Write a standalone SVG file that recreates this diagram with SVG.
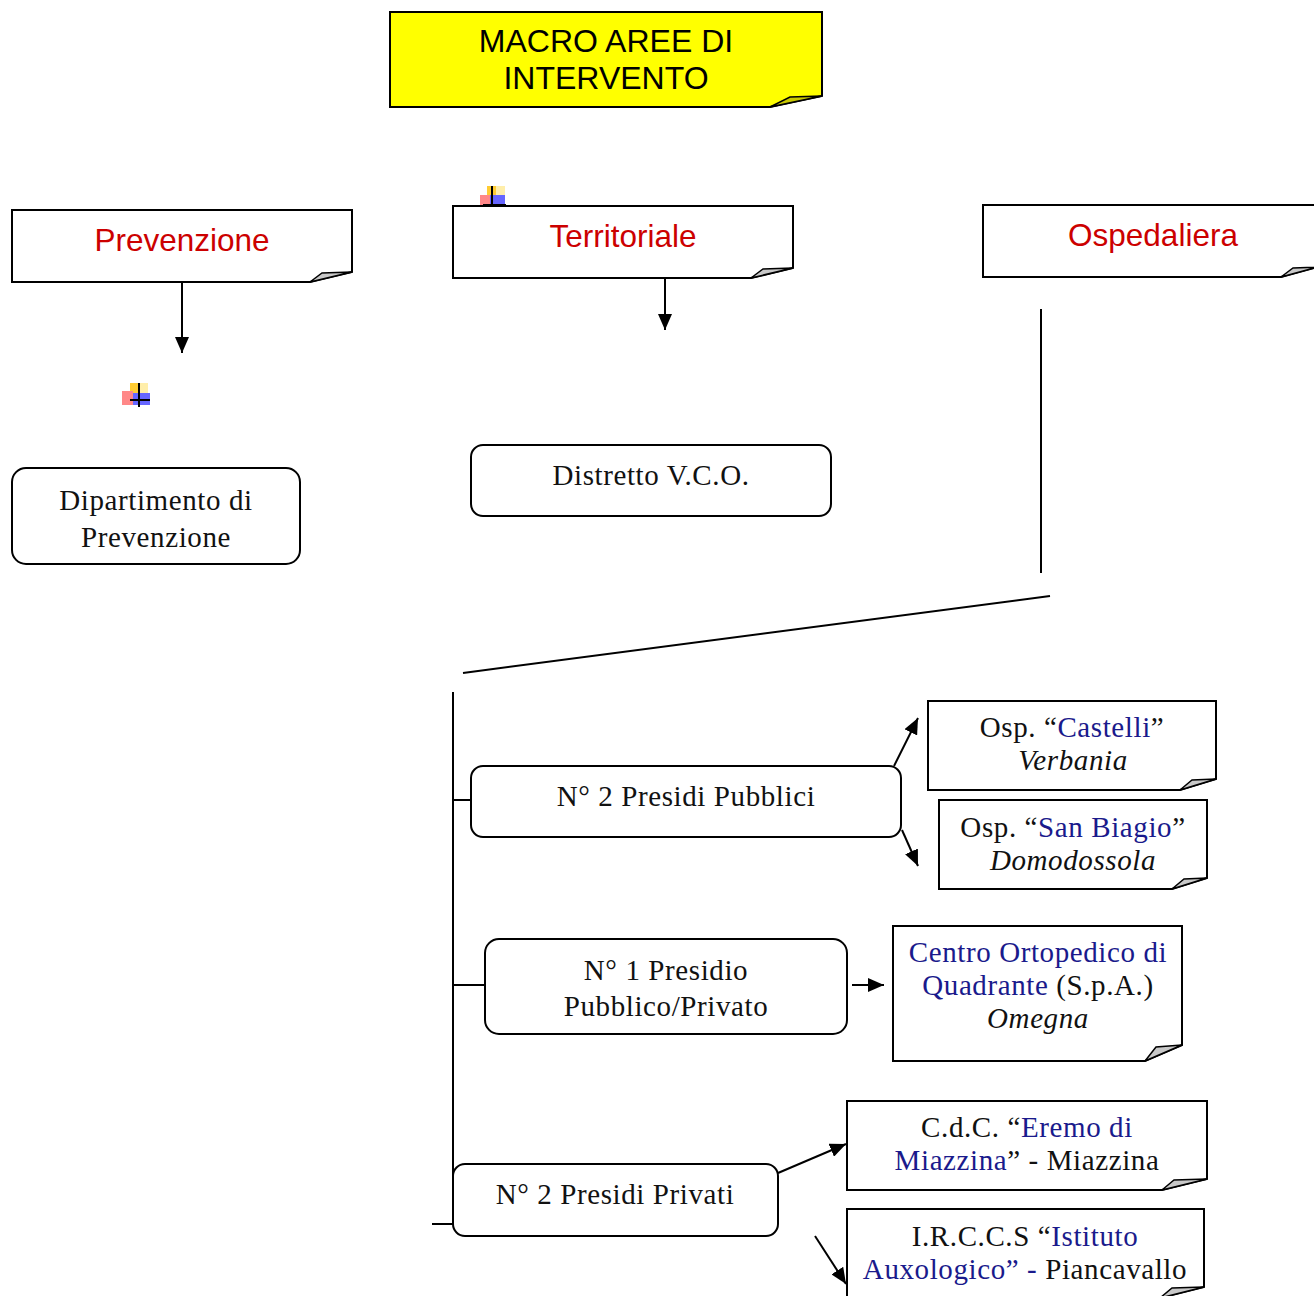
<svg xmlns="http://www.w3.org/2000/svg" width="1314" height="1296" viewBox="0 0 1314 1296">
<style>
.note{fill:#fff;stroke:#000;stroke-width:2}
.fold{fill:#c8c8c8;stroke:#000;stroke-width:1.5}
.rbox{fill:#fff;stroke:#000;stroke-width:2}
.ln{fill:none;stroke:#000;stroke-width:2}
.sans{font-family:"Liberation Sans",Arial,sans-serif;text-anchor:middle}
.ser{font-family:"Liberation Serif","Times New Roman",serif;font-size:29px;letter-spacing:0.6px;text-anchor:middle;fill:#111}
.red{fill:#cc0000;font-size:31.5px}
.b{fill:#1a1a8c}
.i{font-style:italic}
</style>
<defs>
<marker id="arr" viewBox="0 0 16 14" refX="16" refY="7" markerWidth="16" markerHeight="14" markerUnits="userSpaceOnUse" orient="auto">
<path d="M0,0 L16,7 L0,14 Z" fill="#000"/>
</marker>
</defs>

<g id="macro">
<path d="M390,12 H822 V96 L770,107 H390 Z" fill="#ffff00" stroke="#000" stroke-width="2"/>
<path d="M770,107 L790,97 L822,96 Z" fill="#c8c800" stroke="#000" stroke-width="1.5"/>
<text class="sans" x="606" y="52" font-size="32">MACRO AREE DI</text>
<text class="sans" x="606" y="89" font-size="32">INTERVENTO</text>
</g>

<g id="prevenzione">
<path class="note" d="M12,210 H352 V272 L310,282 H12 Z"/>
<path class="fold" d="M310,282 L322,273 L352,272 Z"/>
<text class="sans red" x="182" y="251">Prevenzione</text>
</g>

<g id="territoriale">
<path class="note" d="M453,206 H793 V268 L751,278 H453 Z"/>
<path class="fold" d="M751,278 L763,269 L793,268 Z"/>
<text class="sans red" x="623" y="247">Territoriale</text>
</g>

<g id="ospedaliera">
<path class="note" d="M983,205 H1318 V267 L1281,277 H983 Z"/>
<path class="fold" d="M1281,277 L1293,268 L1318,267 Z"/>
<text class="sans red" x="1153" y="246">Ospedaliera</text>
</g>

<g id="icon1">
<rect x="487" y="186" width="9" height="10" fill="#ffcc33"/>
<rect x="496" y="186" width="9" height="10" fill="#ffeeaa"/>
<rect x="480" y="195" width="10" height="10" fill="#ff8888"/>
<rect x="490" y="195" width="15" height="9" fill="#6666ff"/>
<line x1="492" y1="186" x2="492" y2="206" stroke="#000" stroke-width="2"/>
<line x1="483" y1="205" x2="506" y2="205" stroke="#000" stroke-width="2"/>
</g>

<g id="icon2">
<rect x="130" y="383" width="10" height="10" fill="#ffcc33"/>
<rect x="140" y="383" width="8" height="10" fill="#ffeeaa"/>
<rect x="122" y="391" width="11" height="14" fill="#ff8888"/>
<rect x="133" y="393" width="17" height="12" fill="#6666ff"/>
<line x1="139" y1="383" x2="139" y2="407" stroke="#000" stroke-width="2"/>
<line x1="130" y1="400" x2="150" y2="400" stroke="#000" stroke-width="2"/>
</g>

<g id="dipartimento">
<rect class="rbox" x="12" y="468" width="288" height="96" rx="14"/>
<text class="ser" x="156" y="510">Dipartimento di</text>
<text class="ser" x="156" y="547">Prevenzione</text>
</g>

<g id="distretto">
<rect class="rbox" x="471" y="445" width="360" height="71" rx="12"/>
<text class="ser" x="651" y="485">Distretto V.C.O.</text>
</g>

<g id="pubblici">
<rect class="rbox" x="471" y="766" width="430" height="71" rx="12"/>
<text class="ser" x="686" y="806">N° 2 Presidi Pubblici</text>
</g>

<g id="castelli">
<path class="note" d="M928,701 H1216 V779 L1180,790 H928 Z"/>
<path class="fold" d="M1180,790 L1192,780 L1216,779 Z"/>
<text class="ser" x="1072" y="737">Osp. “<tspan class="b">Castelli</tspan>”</text>
<text class="ser i" x="1073" y="770">Verbania</text>
</g>

<g id="sanbiagio">
<path class="note" d="M939,800 H1207 V878 L1172,889 H939 Z"/>
<path class="fold" d="M1172,889 L1184,879 L1207,878 Z"/>
<text class="ser" x="1073" y="837">Osp. “<tspan class="b">San Biagio</tspan>”</text>
<text class="ser i" x="1073" y="870">Domodossola</text>
</g>

<g id="pubpriv">
<rect class="rbox" x="485" y="939" width="362" height="95" rx="14"/>
<text class="ser" x="666" y="980">N° 1 Presidio</text>
<text class="ser" x="666" y="1016">Pubblico/Privato</text>
</g>

<g id="cto">
<path class="note" d="M893,926 H1182 V1045 L1145,1061 H893 Z"/>
<path class="fold" d="M1145,1061 L1156,1047 L1182,1045 Z"/>
<text class="ser" x="1038" y="962"><tspan class="b">Centro Ortopedico di</tspan></text>
<text class="ser" x="1038" y="995"><tspan class="b">Quadrante</tspan> (S.p.A.)</text>
<text class="ser i" x="1038" y="1028">Omegna</text>
</g>

<g id="privati">
<rect class="rbox" x="453" y="1164" width="325" height="72" rx="12"/>
<text class="ser" x="615" y="1204">N° 2 Presidi Privati</text>
</g>

<g id="eremo">
<path class="note" d="M847,1101 H1207 V1179 L1162,1190 H847 Z"/>
<path class="fold" d="M1162,1190 L1174,1180 L1207,1179 Z"/>
<text class="ser" x="1027" y="1137">C.d.C. “<tspan class="b">Eremo di</tspan></text>
<text class="ser" x="1027" y="1170"><tspan class="b">Miazzina</tspan>” - Miazzina</text>
</g>

<g id="auxologico">
<path class="note" d="M847,1209 H1204 V1287 L1160,1298 H847 Z"/>
<path class="fold" d="M1160,1298 L1172,1288 L1204,1287 Z"/>
<text class="ser" x="1025" y="1246">I.R.C.C.S “<tspan class="b">Istituto</tspan></text>
<text class="ser" x="1025" y="1279"><tspan class="b">Auxologico” -</tspan> Piancavallo</text>
</g>

<g id="connectors">
<line class="ln" x1="182" y1="282" x2="182" y2="353" marker-end="url(#arr)"/>
<line class="ln" x1="665" y1="278" x2="665" y2="330" marker-end="url(#arr)"/>
<line class="ln" x1="1041" y1="309" x2="1041" y2="573"/>
<line class="ln" x1="1050" y1="596" x2="463" y2="673"/>
<line class="ln" x1="453" y1="692" x2="453" y2="1224"/>
<line class="ln" x1="432" y1="1224" x2="453" y2="1224"/>
<line class="ln" x1="453" y1="800" x2="471" y2="800"/>
<line class="ln" x1="453" y1="985" x2="484" y2="985"/>
<line class="ln" x1="894" y1="766" x2="918" y2="718" marker-end="url(#arr)"/>
<line class="ln" x1="902" y1="830" x2="918" y2="866" marker-end="url(#arr)"/>
<line class="ln" x1="852" y1="985" x2="884" y2="985" marker-end="url(#arr)"/>
<line class="ln" x1="778" y1="1173" x2="846" y2="1144" marker-end="url(#arr)"/>
<line class="ln" x1="815" y1="1236" x2="846" y2="1284" marker-end="url(#arr)"/>
</g>
</svg>
